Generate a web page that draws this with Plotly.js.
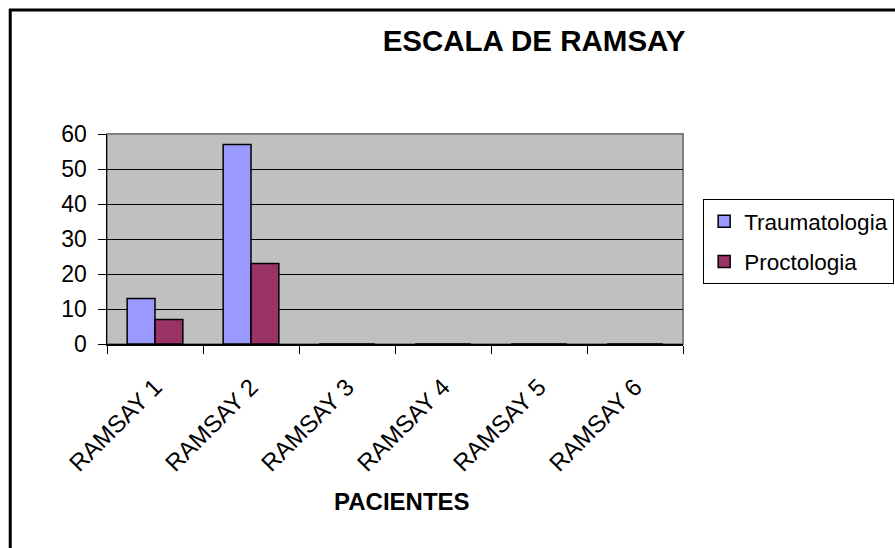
<!DOCTYPE html>
<html>
<head>
<meta charset="utf-8">
<script src="https://cdn.plot.ly/plotly-3.0.1.min.js"></script>
<style>
html,body{margin:0;padding:0;background:#fff;}
#chart{width:895px;height:548px;}
</style>
</head>
<body>
<div id="chart"></div>
<script>
const categories = ["RAMSAY 1", "RAMSAY 2", "RAMSAY 3", "RAMSAY 4", "RAMSAY 5", "RAMSAY 6"];
const traumatologia = [13, 57, 0, 0, 0, 0];
const proctologia = [7, 23, 0, 0, 0, 0];
const yTicks = [0, 10, 20, 30, 40, 50, 60];

const FONT = "Liberation Sans, Arial, sans-serif";

const traces = [
  {
    type: "bar", name: "Traumatologia", x: categories, y: traumatologia,
    marker: {color: "#9999FF", line: {color: "#000000", width: 1.5}},
    legendgroup: "a"
  },
  {
    type: "bar", name: "Proctologia", x: categories, y: proctologia,
    marker: {color: "#993366", line: {color: "#000000", width: 1.5}},
    legendgroup: "b"
  }
];

const layout = {
  width: 895, height: 548,
  margin: {l: 107, r: 212, t: 134, b: 204, autoexpand: false},
  paper_bgcolor: "#FFFFFF",
  plot_bgcolor: "#C0C0C0",
  barmode: "group",
  bargap: 0.42,
  bargroupgap: 0,
  showlegend: true,
  font: {family: FONT, color: "#000000"},
  title: {
    text: "<b>ESCALA DE RAMSAY</b>",
    font: {family: FONT, size: 29.5, color: "#000000"},
    x: 534 / 895, xref: "container", xanchor: "center",
    y: 1 - 41 / 548, yref: "container", yanchor: "middle"
  },
  xaxis: {
    type: "category",
    tickson: "boundaries",
    ticks: "outside", ticklen: 8, tickcolor: "#000000", tickwidth: 1,
    showline: true, linecolor: "#000000", linewidth: 1.5,
    showgrid: false,
    tickangle: -45,
    ticklabelstandoff: 18,
    tickfont: {family: FONT, size: 24, color: "#000000"}
  },
  yaxis: {
    range: [0, 60],
    tickvals: yTicks,
    ticks: "outside", ticklen: 8, tickcolor: "#000000", tickwidth: 1,
    showline: true, linecolor: "#000000", linewidth: 1.5,
    showgrid: true, gridcolor: "#000000", gridwidth: 1,
    zeroline: false,
    tickfont: {family: FONT, size: 23, color: "#000000"},
    ticklabelstandoff: 6
  },
  legend: {
    x: 1.035, xanchor: "left",
    y: 0.69, yanchor: "top",
    bgcolor: "#FFFFFF", bordercolor: "#000000", borderwidth: 1,
    font: {family: FONT, size: 22.5, color: "#000000"},
    traceorder: "grouped", tracegroupgap: 8,
    itemwidth: 30
  },
  annotations: [
    {text: "<b>PACIENTES</b>", xref: "paper", yref: "paper",
     x: (402 - 107) / 576, y: (344 - 501) / 210, xanchor: "center", yanchor: "middle",
     showarrow: false, font: {family: FONT, size: 24, color: "#000000"}}
  ],
  shapes: [
    {type: "rect", xref: "paper", yref: "paper", x0: 0, x1: 1, y0: 0, y1: 1,
     line: {color: "#808080", width: 2}, layer: "below"},
    {type: "line", xref: "paper", yref: "paper", x0: -0.168, x1: -0.168, y0: 1.595, y1: -1.1,
     line: {color: "#000000", width: 3}},
    {type: "line", xref: "paper", yref: "paper", x0: -0.17, x1: 1.6, y0: 1.59, y1: 1.59,
     line: {color: "#000000", width: 3}}
  ]
};

Plotly.newPlot("chart", traces, layout, {displayModeBar: false, staticPlot: true});
</script>
</body>
</html>
